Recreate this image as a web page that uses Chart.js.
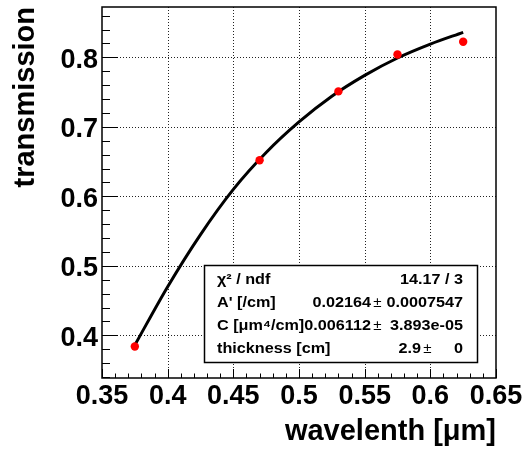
<!DOCTYPE html>
<html>
<head>
<meta charset="utf-8">
<script src="https://cdn.jsdelivr.net/npm/chart.js@4.4.1/dist/chart.umd.min.js"></script>
<style>
  html, body { margin: 0; padding: 0; background: #fff; }
  #wrap { width: 531px; height: 451px; }
</style>
</head>
<body>
<div id="wrap"><canvas id="chart" width="531" height="451"></canvas></div>
<script>
// measured points
const wavelength = [0.375, 0.47, 0.53, 0.575, 0.625];
const transmission = [0.384, 0.652, 0.751, 0.804, 0.8225];

// fit curve
const fitX = [0.375, 0.4, 0.425, 0.45, 0.475, 0.5, 0.525, 0.55, 0.575, 0.6, 0.625];
const fitY = [0.386, 0.470, 0.545, 0.610, 0.663, 0.707, 0.744, 0.774, 0.799, 0.819, 0.836];

const xTicks = [0.35, 0.4, 0.45, 0.5, 0.55, 0.6, 0.65];
const yTicks = [0.4, 0.5, 0.6, 0.7, 0.8];

// stats box
const statLabels = ['χ² / ndf', "A' [/cm]", 'C [μm⁴/cm]', 'thickness [cm]'];
const statValues = ['14.17 / 3', '0.02164', '0.006112', '2.9'];
const statErrors = ['', '0.0007547', '3.893e-05', '0'];

const FONT = "'Liberation Sans', Arial, Helvetica, sans-serif";
Chart.defaults.font.family = FONT;
Chart.defaults.color = '#000';

const fmt = v => String(+(+v).toFixed(2));

// grid, inner ticks and frame like ROOT
const framePlugin = {
    id: 'frame',
    beforeDatasetsDraw(chart) {
        const { ctx, chartArea: a, scales: { x, y } } = chart;
        ctx.save();
        ctx.lineWidth = 1;
        ctx.strokeStyle = '#222';
        ctx.setLineDash([1, 2]);
        xTicks.forEach(v => {
            const px = Math.round(x.getPixelForValue(v)) + 0.5;
            if (px < a.left + 2 || px > a.right - 2) return;
            ctx.beginPath(); ctx.moveTo(px, a.top); ctx.lineTo(px, a.bottom); ctx.stroke();
        });
        yTicks.forEach(v => {
            const py = Math.round(y.getPixelForValue(v)) + 0.5;
            ctx.beginPath(); ctx.moveTo(a.left, py); ctx.lineTo(a.right, py); ctx.stroke();
        });
        ctx.setLineDash([]);
        ctx.strokeStyle = '#000';

        // y ticks
        for (let i = 17; i <= 43; i++) {
            const v = i * 0.02;
            if (v < y.min || v > y.max) continue;
            const major = i % 5 === 0;
            const py = Math.round(y.getPixelForValue(v)) + 0.5;
            ctx.beginPath(); ctx.moveTo(a.left, py); ctx.lineTo(a.left + (major ? 16 : 8), py); ctx.stroke();
        }
        // x ticks
        for (let i = 35; i <= 65; i++) {
            const v = i * 0.01;
            const major = i % 5 === 0;
            const px = Math.round(x.getPixelForValue(v)) + 0.5;
            ctx.beginPath(); ctx.moveTo(px, a.bottom); ctx.lineTo(px, a.bottom - (major ? 9 : 4.5)); ctx.stroke();
        }

        ctx.lineWidth = 1.5;
        ctx.strokeRect(a.left, a.top, a.right - a.left, a.bottom - a.top);
        ctx.restore();
    },
    afterDraw(chart) {
        const { ctx } = chart;
        const sx = 1.08;
        const text = (s, px, py, align, font) => {
            ctx.font = font;
            const w = ctx.measureText(s).width * sx;
            let left = px;
            if (align === 'right') left = px - w;
            if (align === 'center') left = px - w / 2;
            ctx.save();
            ctx.translate(left, py);
            ctx.scale(sx, 1);
            ctx.fillText(s, 0, 0);
            ctx.restore();
        };
        ctx.save();
        ctx.fillStyle = '#fff';
        ctx.fillRect(204.5, 265.5, 273, 97);
        ctx.strokeStyle = '#000';
        ctx.lineWidth = 1.5;
        ctx.strokeRect(204.5, 265.5, 273, 97);
        ctx.fillStyle = '#000';
        ctx.textBaseline = 'alphabetic';
        const bold = 'bold 15px ' + FONT;
        const plain = '14px ' + FONT;
        const rows = [283.5, 306.5, 329.5, 352.5];
        const valRight = [463, 371, 371, 421];
        statLabels.forEach((lab, i) => {
            text(lab, 217, rows[i], 'left', bold);
            text(statValues[i], valRight[i], rows[i], 'right', bold);
            if (statErrors[i] !== '') {
                text('±', valRight[i] + 6.5, rows[i], 'center', plain);
                text(statErrors[i], 463, rows[i], 'right', bold);
            }
        });
        ctx.restore();
    }
};

const ctx = document.getElementById('chart').getContext('2d');

new Chart(ctx, {
    type: 'scatter',
    data: {
        datasets: [
            {
                label: 'data',
                data: wavelength.map((w, i) => ({ x: w, y: transmission[i] })),
                pointRadius: 4.2,
                pointBackgroundColor: '#ff0000',
                pointBorderWidth: 0,
                order: 0
            },
            {
                label: 'fit',
                data: fitX.map((w, i) => ({ x: w, y: fitY[i] })),
                showLine: true,
                pointRadius: 0,
                borderColor: '#000',
                borderWidth: 3,
                cubicInterpolationMode: 'monotone',
                order: 1
            }
        ]
    },
    options: {
        responsive: false,
        animation: false,
        layout: { padding: { left: 0, top: 7, right: 35, bottom: 0 } },
        plugins: { legend: { display: false }, tooltip: { enabled: false } },
        scales: {
            x: {
                type: 'linear',
                min: 0.35,
                max: 0.65,
                afterBuildTicks: s => { s.ticks = xTicks.map(v => ({ value: v })); },
                afterFit: s => { s.height = 73; s.paddingLeft = 0; s.paddingRight = 0; },
                grid: { display: false, drawTicks: false },
                border: { display: false },
                ticks: {
                    padding: 5,
                    autoSkip: false,
                    maxRotation: 0,
                    color: '#000',
                    font: { size: 27, weight: 'bold', lineHeight: 1 },
                    callback: v => fmt(v)
                },
                title: {
                    display: true,
                    text: 'wavelenth [μm]',
                    align: 'end',
                    color: '#000',
                    font: { size: 29, weight: 'bold' },
                    padding: { top: 0, bottom: 2 }
                }
            },
            y: {
                type: 'linear',
                min: 0.3386,
                max: 0.8724,
                afterBuildTicks: s => { s.ticks = yTicks.map(v => ({ value: v })); },
                afterFit: s => { s.width = 102; s.paddingTop = 0; s.paddingBottom = 0; },
                grid: { display: false, drawTicks: false },
                border: { display: false },
                ticks: {
                    padding: 4,
                    labelOffset: 3,
                    autoSkip: false,
                    color: '#000',
                    font: { size: 27, weight: 'bold' },
                    callback: v => fmt(v)
                },
                title: {
                    display: true,
                    text: 'transmission',
                    align: 'end',
                    color: '#000',
                    font: { size: 29, weight: 'bold' },
                    padding: { top: 9, bottom: 0 }
                }
            }
        }
    },
    plugins: [framePlugin]
});
</script>
</body>
</html>
